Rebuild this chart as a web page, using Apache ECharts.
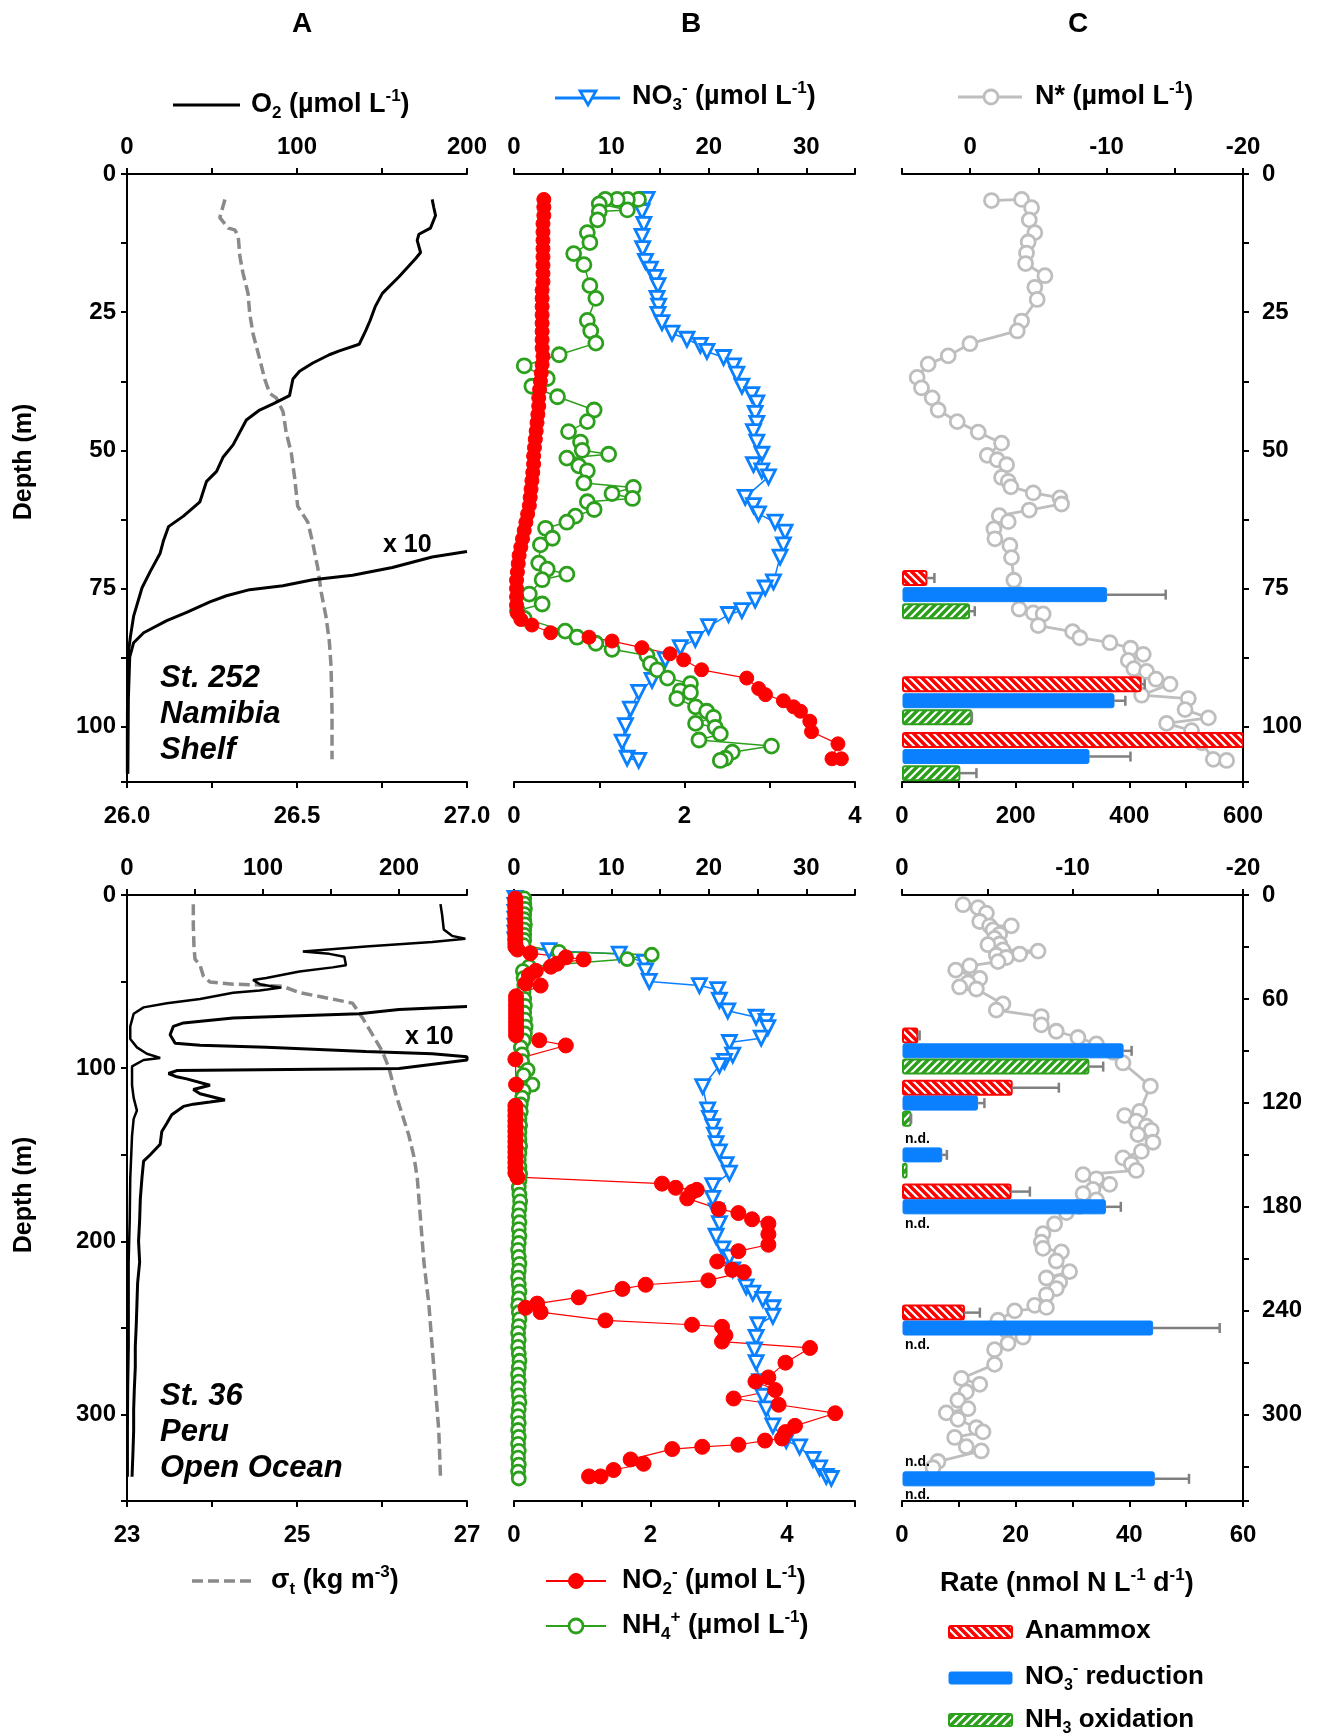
<!DOCTYPE html>
<html><head><meta charset="utf-8">
<script src="https://cdn.jsdelivr.net/npm/echarts@6/dist/echarts.min.js"></script>
<style>html,body{margin:0;padding:0;background:#fff}#c{width:1317px;height:1735px}</style>
</head><body><div id="c"></div>
<script>
// ---------- DATA (value, depth) ----------
// Top row: St. 252 Namibia Shelf
const o2Top = [[179.5,4.6],[180.5,6.1],[181.5,7.5],[178.5,9.8],[171.7,10.9],[170.7,12.0],[172.7,14.2],[169.8,15.3],[160.0,18.6],[150.2,21.6],[146,24],[143,26.5],[140.5,28.3],[136.6,30.8],[124.9,32.0],[119.0,32.7],[109.3,34.2],[101.5,35.7],[97.6,37.1],[95.6,40.1],[85.9,41.6],[78.0,42.7],[70.2,44.5],[62.4,49.0],[56.6,51.2],[52.7,53.8],[46.8,55.6],[42.9,59.3],[33.2,61.9],[24.4,63.8],[21.5,66.3],[19.5,68.6],[13.7,71.9],[8.8,74.9],[3.9,80.0],[2.0,83.7],[0.5,87.4],[0.3,95],[0.2,102],[0.2,108.5]];
const o2TopX10 = [[200,68.3],[179.5,69.3],[156.1,71.2],[132.7,72.6],[109.3,73.4],[91.7,74.5],[72.2,75.2],[58.5,76.3],[48.8,77.4],[35.1,79.3],[23.4,80.8],[9.8,83.0],[3.9,84.8],[1.6,87.4],[0.8,95],[0.5,108.5]];
const sigmaTop = [[26.288,4.6],[26.273,7.9],[26.298,9.8],[26.317,10.1],[26.327,11.2],[26.332,14.9],[26.341,17.9],[26.356,21.6],[26.361,25.3],[26.371,29.0],[26.390,33.4],[26.405,37.1],[26.420,39.7],[26.439,40.5],[26.459,43.0],[26.468,46.7],[26.483,50.4],[26.493,54.9],[26.502,60.1],[26.532,63.0],[26.546,66.7],[26.561,71.2],[26.571,75.6],[26.585,80.0],[26.595,84.5],[26.600,88.9],[26.603,97.0],[26.603,105.9]];
const no3Top = [[13.66,4.6],[13.14,6.8],[13.32,9.1],[13.14,11.3],[13.21,13.5],[13.49,15.8],[14.00,17.2],[14.51,18.7],[14.78,20.2],[14.68,22.5],[14.85,23.9],[14.78,25.4],[15.19,26.9],[16.22,28.8],[17.75,29.9],[19.12,31.0],[19.80,32.1],[21.51,33.2],[22.53,34.7],[22.87,36.2],[23.39,38.4],[24.41,39.9],[24.92,41.4],[24.75,43.3],[24.92,45.1],[24.58,46.6],[24.92,48.5],[25.44,50.7],[24.58,52.6],[25.44,53.7],[26.12,54.8],[23.73,58.5],[24.58,60.0],[25.09,61.5],[26.80,63.0],[27.82,64.8],[27.65,67.1],[27.31,69.3],[26.63,73.8],[25.78,74.9],[24.75,77.1],[23.39,79.0],[22.02,79.7],[19.97,81.9],[18.61,84.2],[17.07,85.7],[15.53,87.9],[14.17,91.6],[12.80,93.8],[11.95,96.8],[11.44,99.8],[11.10,102.8],[11.61,105.7],[12.80,106.1]];
const nh4Top = [[1.46,4.6],[1.33,4.6],[1.21,4.6],[1.07,4.6],[1.00,5.4],[1.33,6.5],[1.00,6.8],[0.98,8.3],[0.86,10.6],[0.89,12.4],[0.70,14.4],[0.82,16.4],[0.89,20.2],[0.96,22.5],[0.86,26.5],[0.90,28.4],[0.96,30.6],[0.53,32.7],[0.12,34.7],[0.39,37.0],[0.21,38.4],[0.51,40.3],[0.94,42.7],[0.86,44.8],[0.64,46.6],[0.78,48.5],[0.80,50.0],[1.11,50.7],[0.62,51.4],[0.76,52.8],[0.86,53.7],[0.82,55.9],[1.40,56.7],[1.15,57.8],[1.39,58.7],[0.86,59.3],[0.94,60.7],[0.72,61.9],[0.62,63.0],[0.37,64.1],[0.45,65.9],[0.31,67.1],[0.29,70.4],[0.39,71.5],[0.62,72.4],[0.33,73.4],[0.18,76.0],[0.33,77.8],[0.04,79.0],[0.12,80.4],[0.60,82.7],[0.74,83.8],[0.96,84.9],[1.15,86.0],[1.56,87.1],[1.60,88.6],[1.68,89.7],[1.80,91.2],[2.07,92.2],[1.95,93.5],[2.07,93.8],[1.91,94.9],[2.13,96.4],[2.26,97.2],[2.34,98.3],[2.13,99.4],[2.36,100.1],[2.42,101.3],[2.17,102.4],[3.02,103.5],[2.56,104.6],[2.48,105.7],[2.42,106.1]];
const no2Top = [[0.35,4.6],[0.35,6.0],[0.35,7.5],[0.34,9.0],[0.34,10.5],[0.34,12.0],[0.34,13.5],[0.34,15.0],[0.34,16.5],[0.34,18.0],[0.34,19.5],[0.33,21.0],[0.33,22.5],[0.33,24.0],[0.33,25.5],[0.33,27.0],[0.33,28.5],[0.33,30.0],[0.33,31.5],[0.34,33.0],[0.33,34.5],[0.32,36.0],[0.31,37.5],[0.30,39.0],[0.29,40.5],[0.29,42.0],[0.28,43.5],[0.27,45.0],[0.26,46.5],[0.25,48.0],[0.24,49.5],[0.23,51.0],[0.23,52.5],[0.22,54.0],[0.21,55.5],[0.20,57.0],[0.19,58.5],[0.18,60.0],[0.16,61.5],[0.14,63.0],[0.12,64.5],[0.10,66.0],[0.08,67.5],[0.06,69.0],[0.05,70.5],[0.04,72.0],[0.03,73.5],[0.03,75.0],[0.03,76.5],[0.03,78.0],[0.04,79.5],[0.08,80.6],[0.21,81.6],[0.43,83.0],[0.88,83.8],[1.15,84.5],[1.50,85.7],[1.83,86.8],[1.99,87.9],[2.20,89.7],[2.73,91.2],[2.87,93.1],[2.95,94.2],[3.16,95.3],[3.28,96.4],[3.36,97.2],[3.47,99.0],[3.49,100.9],[3.80,103.1],[3.73,105.8],[3.84,105.8]];
const nstarTop = [[-1.56,4.8],[-3.77,4.6],[-4.50,6.1],[-4.33,8.3],[-4.74,10.6],[-4.25,12.3],[-4.13,14.3],[-4.06,16.2],[-5.48,18.4],[-4.74,20.5],[-4.91,22.7],[-3.77,26.6],[-3.45,28.4],[0.02,30.7],[1.61,32.9],[3.08,34.4],[3.89,36.8],[3.57,38.7],[2.79,40.5],[2.35,42.7],[0.95,44.8],[-0.59,46.7],[-2.30,48.7],[-1.25,50.9],[-1.98,51.7],[-2.67,52.6],[-2.30,54.9],[-2.79,55.6],[-2.98,56.6],[-4.62,57.7],[-6.58,58.6],[-6.70,59.7],[-4.33,60.8],[-2.13,61.8],[-2.79,62.9],[-1.74,64.2],[-1.81,66.0],[-2.91,67.2],[-3.03,69.4],[-3.20,73.5],[-3.64,76.1],[-3.59,78.7],[-4.62,79.4],[-5.35,79.6],[-4.99,81.7],[-7.51,82.8],[-8.04,83.9],[-10.24,84.8],[-11.76,85.8],[-12.69,86.9],[-11.59,88.0],[-12.00,89.5],[-12.93,90.0],[-13.62,91.4],[-14.65,92.3],[-12.57,94.3],[-15.99,94.9],[-15.75,96.9],[-17.46,98.4],[-14.40,99.4],[-16.23,100.7],[-16.97,102.9],[-17.82,105.9],[-18.80,106.1]];
// rates: [rate, depth, error]
const anammoxTop = [[43,73.1,14],[420,92.3,7],[600,102.4,5]];
const no3RedTop  = [[360,76.1,104],[373,95.3,20],[329,105.4,73]];
const nh3OxTop   = [[118,79.1,10],[122,98.3,1],[101,108.4,30]];

// Bottom row: St. 36 Peru Open Ocean
const o2Bot = [[230.5,5.3],[231.7,11.4],[232.9,19.9],[239.0,23.6],[248.8,25.3],[224.4,27.2],[175.6,29.7],[129.3,32.6],[148.8,34.0],[159.8,35.7],[161.0,40.6],[151.2,41.8],[126.8,44.2],[102.4,47.9],[92.7,49.1],[97.6,51.5],[107.3,52.8],[113.4,53.5],[97.6,55.2],[78.0,56.4],[53.7,60.1],[29.3,62.5],[12.2,64.9],[4.9,68.6],[2.4,75.9],[2.4,83.2],[7.3,88.0],[14.6,91.7],[24.4,94.1],[12.2,95.3],[3.7,99.0],[3.7,109.9],[4.9,117.2],[7.3,124.5],[4.9,129.3],[3.7,139.1],[2.4,163.4],[2.0,187.7],[1.2,212.0],[1.2,236.3],[1.2,260.6],[0.7,285.0],[0.5,309.3],[0.5,336.0]];
const o2BotX10 = [[250,64.4],[200,66.1],[170.7,68.6],[78.0,71.0],[41.5,73.9],[34.1,75.9],[31.7,80.7],[35.4,85.6],[53.7,86.8],[102.4,88.0],[175.6,90.4],[224.4,91.7],[250,93.4],[250,95.3],[200,100.2],[36.6,101.4],[30.5,103.1],[36.6,105.0],[43.9,106.2],[61.0,109.9],[48.8,112.3],[53.7,114.8],[72.0,118.4],[61.0,119.6],[48.8,120.8],[41.5,122.1],[32.9,126.9],[29.3,131.8],[25.6,136.6],[24.4,143.9],[17.1,150.0],[12.2,153.7],[11.0,163.4],[9.8,175.5],[9.3,187.7],[8.5,199.9],[9.3,212.0],[7.8,224.2],[7.3,236.3],[6.8,248.5],[6.1,260.6],[6.1,272.8],[5.4,285.0],[4.9,297.1],[4.9,309.3],[4.4,321.4],[3.7,336.0]];
const sigmaBot = [[23.780,5.3],[23.780,17.5],[23.788,29.7],[23.800,37.0],[23.859,40.6],[23.898,46.7],[23.976,50.3],[24.249,51.5],[24.561,52.0],[24.834,52.8],[25.029,56.4],[25.420,60.1],[25.654,62.5],[25.771,71.0],[25.888,80.7],[26.005,90.4],[26.083,100.2],[26.161,114.8],[26.239,126.9],[26.317,139.1],[26.376,151.2],[26.415,163.4],[26.454,187.7],[26.493,212.0],[26.551,236.3],[26.590,260.6],[26.629,285.0],[26.668,309.3],[26.688,336.0]];
const no3Bot = [[0.1,2],[0.1,6],[0.1,10],[0.1,14],[0.1,18],[0.1,22],[0.1,26],[0.2,30],[3.60,32.1],[10.80,34.1],[13.37,38.9],[13.5,43.8],[13.88,49.9],[19.03,52.3],[20.91,54.7],[21.08,60.8],[21.94,66.9],[24.85,70.6],[25.88,73.0],[26.05,76.6],[25.37,82.7],[22.11,85.2],[22.45,92.5],[21.60,96.1],[21.08,98.5],[19.37,110.7],[19.88,124.1],[20.06,129.0],[20.40,133.8],[20.57,138.7],[20.74,143.6],[21.08,148.4],[21.77,155.7],[22.11,160.6],[20.40,167.9],[20.40,175.2],[20.74,182.5],[21.08,189.8],[20.74,197.1],[21.43,204.4],[22.11,209.2],[22.45,216.5],[23.83,226.3],[24.51,229.9],[25.54,233.6],[26.57,238.4],[26.57,243.3],[25.03,248.2],[24.85,255.5],[24.68,262.8],[24.85,270.1],[25.20,281.0],[25.54,289.5],[25.88,296.8],[26.57,306.6],[27.94,315.1],[29.31,318.7],[30.68,326.0],[31.37,330.9],[32.05,335.8],[32.57,337.0]];
const nh4Bot = [[0.15,2],[0.15,5],[0.16,8],[0.15,11],[0.15,14],[0.16,17],[0.15,20],[0.15,23],[0.15,26],[0.14,29],[0.66,32.8],[2.02,34.5],[1.66,37.0],[0.22,41.4],[0.13,44],[0.14,48],[0.15,52],[0.14,56],[0.15,60],[0.16,64],[0.15,68],[0.16,72],[0.17,76],[0.16,80],[0.14,84],[0.10,88],[0.12,92],[0.12,96],[0.20,101],[0.14,104],[0.27,109.5],[0.14,113],[0.12,117],[0.10,121],[0.10,125],[0.08,129],[0.09,133],[0.08,137],[0.08,141],[0.09,145],[0.08,149],[0.07,153],[0.08,157],[0.09,161],[0.08,165],[0.07,169],[0.08,173],[0.09,177],[0.08,181],[0.07,185],[0.08,189],[0.07,193],[0.08,197],[0.07,201],[0.06,205],[0.07,209],[0.08,213],[0.07,217],[0.06,221],[0.07,225],[0.08,229],[0.07,233],[0.06,237],[0.07,241],[0.08,245],[0.07,249],[0.06,253],[0.07,257],[0.06,261],[0.07,265],[0.08,269],[0.07,273],[0.06,277],[0.07,281],[0.06,285],[0.07,289],[0.08,293],[0.07,297],[0.06,301],[0.07,305],[0.06,309],[0.07,313],[0.06,317],[0.07,321],[0.06,325],[0.07,329],[0.06,333],[0.07,337]];
const no2Bot = [[0.02,2],[0.02,4],[0.02,6],[0.02,8],[0.02,10],[0.02,12],[0.02,14],[0.02,16],[0.02,18],[0.02,20],[0.02,22],[0.02,24],[0.02,26],[0.02,28],[0.02,30],[0.05,31.5],[0.24,33.6],[0.76,36.0],[1.02,37.2],[0.63,39.7],[0.54,41.4],[0.32,43.8],[0.22,46.2],[0.17,51.1],[0.39,52.3],[0.03,58.5],[0.03,61],[0.03,63.5],[0.03,66],[0.03,68.5],[0.03,71],[0.03,73.5],[0.03,76],[0.03,78.5],[0.03,81],[0.37,83.9],[0.76,86.9],[0.02,94.9],[0.03,109.5],[0.02,121.7],[0.02,124.5],[0.02,127.5],[0.02,130.5],[0.02,133.5],[0.02,136.5],[0.02,139.5],[0.02,142.5],[0.02,145.5],[0.02,148.5],[0.02,151.5],[0.02,154.5],[0.02,157.5],[0.02,160.5],[0.05,163],[2.17,166.7],[2.37,169.1],[2.68,170.3],[2.61,171.5],[2.54,175.2],[3.00,181.3],[3.29,183.7],[3.49,187.3],[3.73,189.8],[3.73,195.9],[3.73,202.0],[3.29,205.7],[2.98,211.7],[3.20,216.5],[3.37,217.8],[2.85,222.6],[1.93,225.1],[1.59,227.5],[0.95,232.4],[0.34,236.0],[0.17,238.4],[0.39,240.9],[1.34,245.7],[2.61,248.2],[3.05,249.4],[3.10,254.3],[3.05,257.9],[4.34,261.6],[3.98,270.1],[3.73,278.6],[3.54,281.0],[3.83,285.9],[3.22,290.8],[3.88,294.4],[4.71,299.3],[4.12,306.6],[3.98,310.2],[3.93,313.9],[3.68,315.1],[3.29,317.5],[2.76,318.7],[2.32,320.0],[1.71,326.0],[1.90,328.5],[1.46,332.1],[1.27,335.8],[1.10,335.8]];
const nstarBot = [[-3.58,5.6],[-4.46,7.3],[-4.95,10.5],[-4.56,15.3],[-5.14,17.8],[-6.41,17.8],[-5.34,20.2],[-5.73,22.7],[-5.43,25.1],[-5.73,28.3],[-5.04,28.7],[-5.92,31.7],[-7.98,32.4],[-6.90,34.1],[-5.53,34.8],[-6.12,36.1],[-5.63,38.5],[-3.97,40.9],[-3.15,43.4],[-4.56,48.2],[-3.87,50.7],[-3.38,53.1],[-4.36,54.3],[-5.92,62.9],[-5.53,66.5],[-8.17,70.2],[-8.17,75.0],[-9.05,78.7],[-10.32,82.3],[-11.40,86.0],[-12.38,90.9],[-12.96,97.0],[-14.57,110.4],[-13.94,125.0],[-13.06,127.4],[-13.74,130.6],[-14.33,133.5],[-14.62,135.9],[-13.84,138.4],[-14.72,142.8],[-14.04,148.1],[-12.96,151.8],[-13.45,155.4],[-13.74,159.1],[-10.62,161.5],[-11.40,163.9],[-12.18,167.1],[-11.20,170.0],[-10.62,172.5],[-11.40,176.1],[-10.42,179.8],[-9.64,183.4],[-8.95,190.0],[-8.27,195.6],[-8.17,200.5],[-8.27,204.1],[-9.35,206.1],[-9.05,211.4],[-9.83,217.5],[-8.47,221.2],[-9.25,223.6],[-9.05,227.3],[-8.47,230.9],[-7.78,237.0],[-8.47,238.2],[-6.61,240.2],[-5.63,245.6],[-6.12,251.6],[-7.10,255.3],[-6.22,258.9],[-5.43,262.6],[-5.43,271.1],[-3.48,279.2],[-4.56,282.6],[-3.77,287.0],[-3.28,291.8],[-3.87,296.7],[-2.60,299.1],[-3.28,302.8],[-4.36,307.7],[-4.75,310.1],[-3.09,313.3],[-3.77,318.6],[-4.65,321.1],[-2.11,327.2],[-1.82,330.8]];
const anammoxBot = [[2.7,81.1,0.4],[19.3,111.3,8.3],[19.1,171.3,3.4],[10.9,241.2,2.8]];
const no3RedBot  = [[38.9,90.0,1.5],[13.3,120.2,1.2],[7.0,150.1,0.9],[35.8,180.1,2.7],[44.1,250.1,11.8],[44.4,337.2,6.1]];
const nh3OxBot   = [[32.8,99.1,2.6],[1.5,129.2,0.1],[0.8,159.2,0]];
const notDetectedBot = [[0,141.2],[0,190.0],[0,260.0],[0,327.6],[0,346.6]];

// Axis tick label sets
const o2TopLabels = [0,100,200];
const o2BotLabels = [0,100,200];
const sigmaTopLabels = [26.0,26.5,27.0];
const sigmaBotLabels = [23,25,27];
const no3Labels = [0,10,20,30];
const nLabels = [0,2,4];
const nstarLabels = [0,-10,-20];
const rateTopLabels = [0,200,400,600];
const rateBotLabels = [0,20,40,60];
const depthTopLabels = [0,25,50,75,100];
const depthBotLabelsA = [0,100,200,300];
const depthBotLabelsC = [0,60,120,180,240,300];

// ---------- STYLE ----------
const FF = '"Liberation Sans", Arial, Helvetica, sans-serif';
const BLUE = '#0A80FF', GREEN = '#2CA01C', RED = '#FF0000', NGRAY = '#BEBEBE', SGRAY = '#8A8A8A';

function inSet(set, dec){ return v => { for (const s of set) if (Math.abs(v - s) < 1e-6) return dec ? v.toFixed(dec) : String(Math.round(v)); return ''; }; }

function axisBase(extra){
  return Object.assign({
    type:'value',
    axisLine:{show:true, onZero:false, lineStyle:{color:'#000', width:2}},
    axisTick:{show:true, inside:false, length:6, lineStyle:{color:'#000', width:2}},
    splitLine:{show:false},
    axisLabel:{color:'#000', fontSize:24, fontWeight:'bold', fontFamily:FF, showMinLabel:true, showMaxLabel:true}
  }, extra);
}
function xAx(grid, pos, min, max, interval, fmt, inverse){
  const a = axisBase({gridIndex:grid, position:pos, min, max, interval, inverse: !!inverse});
  a.axisLabel = Object.assign({}, a.axisLabel, {formatter: fmt, margin: pos === 'top' ? 15 : 22});
  return a;
}
function yAx(grid, pos, max, interval, fmt, hidden){
  const a = axisBase({gridIndex:grid, position:pos, min:0, max, interval, inverse:true});
  a.axisLabel = Object.assign({}, a.axisLabel, {formatter: fmt, margin: pos === 'left' ? 11 : 19});
  if (hidden) { a.show = false; }
  return a;
}

function makePattern(bg, dir){
  const c = document.createElement('canvas'); c.width = 8; c.height = 8;
  const g = c.getContext('2d');
  g.fillStyle = bg; g.fillRect(0,0,8,8);
  g.strokeStyle = '#fff'; g.lineWidth = 2.2; g.beginPath();
  for (let k = -1; k <= 1; k++) {
    if (dir === 'back') { g.moveTo(k*8-1, -1); g.lineTo(k*8+9, 9); }
    else { g.moveTo(k*8-1, 9); g.lineTo(k*8+9, -1); }
  }
  g.stroke();
  return {image:c, repeat:'repeat'};
}
const patA = makePattern(RED, 'back');
const patN = makePattern(GREEN, 'fwd');
const barStyles = {
  anammox:{fill:patA, stroke:RED, lineWidth:2},
  no3:{fill:BLUE, stroke:BLUE, lineWidth:1},
  nh3:{fill:patN, stroke:GREEN, lineWidth:2}
};
const BAR_H = 14;
function barSeries(data, xi, yi, kind){
  return {type:'custom', xAxisIndex:xi, yAxisIndex:yi, data, clip:true, z:5, encode:{x:0, y:1},
    renderItem:(params, api) => {
      const v = api.value(0), d = api.value(1), e = api.value(2);
      const a = api.coord([0, d]), b = api.coord([v, d]);
      const ch = [{type:'rect', shape:{x:a[0]+1, y:a[1]-BAR_H/2, width:Math.max(b[0]-a[0]-1, 1.5), height:BAR_H, r:2}, style:barStyles[kind]}];
      if (e > 0) {
        const c = api.coord([v+e, d]);
        ch.push({type:'line', shape:{x1:b[0], y1:b[1], x2:c[0], y2:c[1]}, style:{stroke:'#808080', lineWidth:2.5}});
        ch.push({type:'line', shape:{x1:c[0], y1:c[1]-5, x2:c[0], y2:c[1]+5}, style:{stroke:'#808080', lineWidth:2.5}});
      }
      return {type:'group', children:ch};
    }};
}
function ndSeries(data, xi, yi){
  return {type:'custom', xAxisIndex:xi, yAxisIndex:yi, data, clip:false, z:6, encode:{x:0, y:1},
    renderItem:(params, api) => {
      const p = api.coord([api.value(0), api.value(1)]);
      return {type:'text', x:p[0]+3, y:p[1], style:{text:'n.d.', fill:'#000', textFill:'#000', font:'bold 14px ' + FF,
        align:'left', textAlign:'left', verticalAlign:'middle', textVerticalAlign:'middle'}};
    }};
}
function lineS(data, xi, yi, color, width, dash){
  return {type:'line', xAxisIndex:xi, yAxisIndex:yi, data, symbol:'none', clip:true, z:2,
    lineStyle:{color, width, type: dash ? [11,5] : 'solid'}};
}
function markS(data, xi, yi, color, opts){
  return Object.assign({type:'line', xAxisIndex:xi, yAxisIndex:yi, data, clip:true, z:3,
    symbol:'circle', symbolSize:14, showAllSymbol:true,
    lineStyle:{color, width:1.5},
    itemStyle:{color:'#fff', borderColor:color, borderWidth:2.8}}, opts || {});
}

// rich text helper
function rich(size){
  const s = Math.round(size*0.62);
  return {
    sub:{fontSize:s, fontWeight:'bold', fontFamily:FF, lineHeight:s, verticalAlign:'bottom', textVerticalAlign:'bottom', fill:'#000', textFill:'#000'},
    sup:{fontSize:s, fontWeight:'bold', fontFamily:FF, lineHeight:s, verticalAlign:'top', textVerticalAlign:'top', fill:'#000', textFill:'#000'}
  };
}
function txt(x, y, text, size, o){
  o = o || {};
  const style = {text, fill:'#000', textFill:'#000',
    font:(o.italic ? 'italic ' : '') + 'bold ' + size + 'px ' + FF,
    align:o.align || 'left', textAlign:o.align || 'left',
    verticalAlign:'middle', textVerticalAlign:'middle',
    lineHeight:Math.round(size*1.25), textLineHeight:Math.round(size*1.25), rich:rich(size)};
  return {type:'text', x, y, rotation:o.rot || 0, style, z:10};
}

const graphics = [
  txt(302, 24, 'A', 28, {align:'center'}),
  txt(691, 24, 'B', 28, {align:'center'}),
  txt(1078, 24, 'C', 28, {align:'center'}),
  // top legends
  {type:'line', shape:{x1:173, y1:105, x2:240, y2:105}, style:{stroke:'#000', lineWidth:3}},
  txt(251, 105, 'O{sub|2} (µmol L{sup|-1})', 27),
  {type:'line', shape:{x1:555, y1:98, x2:620, y2:98}, style:{stroke:BLUE, lineWidth:3}},
  {type:'polygon', shape:{points:[[580,91],[596,91],[588,105]]}, style:{fill:'#fff', stroke:BLUE, lineWidth:2.8}},
  txt(632, 97, 'NO{sub|3}{sup|-} (µmol L{sup|-1})', 27),
  {type:'line', shape:{x1:958, y1:97, x2:1022, y2:97}, style:{stroke:NGRAY, lineWidth:3}},
  {type:'circle', shape:{cx:991, cy:97, r:7}, style:{fill:'#fff', stroke:NGRAY, lineWidth:2.8}},
  txt(1035, 97, 'N* (µmol L{sup|-1})', 27),
  // bottom legends
  {type:'line', shape:{x1:192, y1:1581, x2:252, y2:1581}, style:{stroke:SGRAY, lineWidth:3.5, lineDash:[11,5]}},
  txt(271, 1581, 'σ{sub|t} (kg m{sup|-3})', 27),
  {type:'line', shape:{x1:546, y1:1581, x2:606, y2:1581}, style:{stroke:RED, lineWidth:2}},
  {type:'circle', shape:{cx:576, cy:1581, r:7.5}, style:{fill:RED, stroke:RED, lineWidth:1}},
  txt(622, 1581, 'NO{sub|2}{sup|-} (µmol L{sup|-1})', 27),
  {type:'line', shape:{x1:546, y1:1626, x2:606, y2:1626}, style:{stroke:GREEN, lineWidth:2}},
  {type:'circle', shape:{cx:576, cy:1626, r:7}, style:{fill:'#fff', stroke:GREEN, lineWidth:2.8}},
  txt(622, 1626, 'NH{sub|4}{sup|+} (µmol L{sup|-1})', 27),
  txt(940, 1584, 'Rate (nmol N L{sup|-1} d{sup|-1})', 27),
  {type:'rect', shape:{x:949, y:1626, width:63, height:12, r:2}, style:{fill:patA, stroke:RED, lineWidth:2}},
  txt(1025, 1631, 'Anammox', 26),
  {type:'rect', shape:{x:949, y:1672, width:63, height:12, r:2}, style:{fill:BLUE, stroke:BLUE, lineWidth:1}},
  txt(1025, 1677, 'NO{sub|3}{sup|-} reduction', 26),
  {type:'rect', shape:{x:949, y:1714, width:63, height:12, r:2}, style:{fill:patN, stroke:GREEN, lineWidth:2}},
  txt(1025, 1720, 'NH{sub|3} oxidation', 26),
  // depth titles
  txt(24, 462, 'Depth (m)', 25, {align:'center', rot:Math.PI/2}),
  txt(24, 1195, 'Depth (m)', 25, {align:'center', rot:Math.PI/2}),
  // stations
  txt(160, 678, 'St. 252', 31, {italic:true}),
  txt(160, 714, 'Namibia', 31, {italic:true}),
  txt(160, 750, 'Shelf', 31, {italic:true}),
  txt(160, 1396, 'St. 36', 31, {italic:true}),
  txt(160, 1432, 'Peru', 31, {italic:true}),
  txt(160, 1468, 'Open Ocean', 31, {italic:true}),
  txt(383, 545, 'x 10', 25),
  txt(405, 1037, 'x 10', 25)
];

const option = {
  animation:false,
  backgroundColor:'#fff',
  grid:[
    {left:127, top:174, width:340, height:608},
    {left:514, top:174, width:341, height:608},
    {left:902, top:174, width:341, height:608},
    {left:127, top:895, width:340, height:606},
    {left:514, top:895, width:341, height:606},
    {left:902, top:895, width:341, height:606}
  ],
  xAxis:[
    xAx(0,'top',0,200,50,inSet(o2TopLabels)),
    xAx(0,'bottom',26,27,0.25,inSet(sigmaTopLabels,1)),
    xAx(1,'top',0,35,5,inSet(no3Labels)),
    xAx(1,'bottom',0,4,1,inSet(nLabels)),
    xAx(2,'top',-20,5,5,inSet(nstarLabels),true),
    xAx(2,'bottom',0,600,100,inSet(rateTopLabels)),
    xAx(3,'top',0,250,50,inSet(o2BotLabels)),
    xAx(3,'bottom',23,27,1,inSet(sigmaBotLabels)),
    xAx(4,'top',0,35,5,inSet(no3Labels)),
    xAx(4,'bottom',0,5,1,inSet(nLabels)),
    xAx(5,'top',-20,0,5,inSet(nstarLabels),true),
    xAx(5,'bottom',0,60,10,inSet(rateBotLabels))
  ],
  yAxis:[
    yAx(0,'left',110,12.5,inSet(depthTopLabels)),
    yAx(1,'left',110,12.5,inSet(depthTopLabels),true),
    yAx(2,'right',110,12.5,inSet(depthTopLabels)),
    yAx(3,'left',350,50,inSet(depthBotLabelsA)),
    yAx(4,'left',350,50,inSet(depthBotLabelsA),true),
    yAx(5,'right',350,30,inSet(depthBotLabelsC))
  ],
  series:[
    // top A
    lineS(sigmaTop,1,0,SGRAY,3.5,true),
    lineS(o2Top,0,0,'#000',3),
    lineS(o2TopX10,0,0,'#000',3),
    // top B
    markS(no3Top,2,1,BLUE,{symbol:'triangle', symbolRotate:180, symbolSize:14}),
    markS(nh4Top,3,1,GREEN,{symbolSize:14}),
    markS(no2Top,3,1,RED,{symbolSize:14, lineStyle:{color:RED, width:1.2}, itemStyle:{color:RED, borderColor:RED, borderWidth:1}}),
    // top C
    markS(nstarTop,4,2,NGRAY,{symbolSize:14, lineStyle:{color:NGRAY, width:2.8}}),
    barSeries(anammoxTop,5,2,'anammox'),
    barSeries(no3RedTop,5,2,'no3'),
    barSeries(nh3OxTop,5,2,'nh3'),
    // bottom A
    lineS(sigmaBot,7,3,SGRAY,3.5,true),
    lineS(o2Bot,6,3,'#000',2.5),
    lineS(o2BotX10,6,3,'#000',3),
    // bottom B
    markS(no3Bot,8,4,BLUE,{symbol:'triangle', symbolRotate:180, symbolSize:14}),
    markS(nh4Bot,9,4,GREEN,{symbolSize:13}),
    markS(no2Bot,9,4,RED,{symbolSize:15, lineStyle:{color:RED, width:1.2}, itemStyle:{color:RED, borderColor:RED, borderWidth:1}}),
    // bottom C
    markS(nstarBot,10,5,NGRAY,{symbolSize:14, lineStyle:{color:NGRAY, width:2.8}}),
    barSeries(anammoxBot,11,5,'anammox'),
    barSeries(no3RedBot,11,5,'no3'),
    barSeries(nh3OxBot,11,5,'nh3'),
    ndSeries(notDetectedBot,11,5)
  ],
  graphic:graphics
};
const chart = echarts.init(document.getElementById('c'), null, {renderer:'canvas'});
chart.setOption(option);
</script></body></html>
